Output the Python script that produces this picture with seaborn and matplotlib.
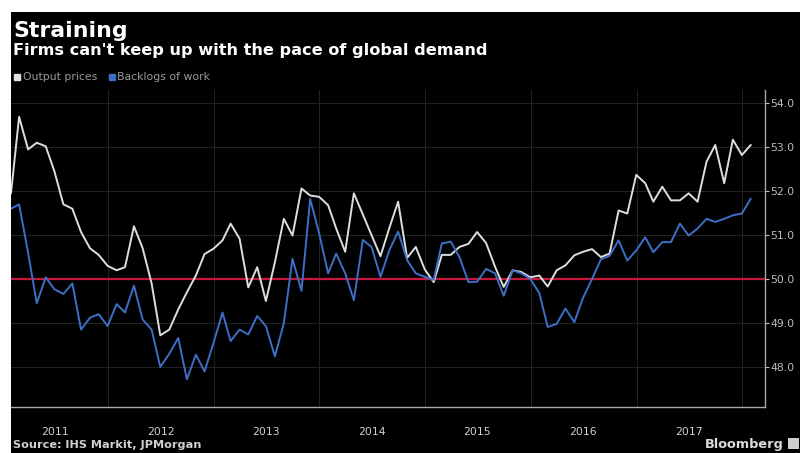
import numpy as np
import pandas as pd
import matplotlib
matplotlib.use("Agg")
import matplotlib.pyplot as plt
import matplotlib.dates as mdates
from matplotlib.lines import Line2D
from matplotlib.patches import Rectangle
import seaborn as sns

sns.set_style("dark")
plt.rcParams['font.family'] = ['DejaVu Sans']

# monthly PMI sub-indices, Jan 2011 - Jan 2018 (plotted at month end)
months = pd.date_range("2011-01-31", periods=85, freq="ME")
output_prices = [
    51.95, 53.69, 52.95, 53.10, 53.02, 52.45, 51.70, 51.60, 51.07, 50.70,
    50.55, 50.30, 50.20, 50.27, 51.20, 50.70, 49.90, 48.72, 48.85, 49.31,
    49.70, 50.08, 50.57, 50.69, 50.88, 51.26, 50.92, 49.81, 50.27, 49.50,
    50.38, 51.37, 50.99, 52.06, 51.90, 51.87, 51.68, 51.15, 50.62, 51.95,
    51.47, 51.00, 50.52, 51.17, 51.76, 50.48, 50.73, 50.22, 49.93, 50.55,
    50.55, 50.73, 50.80, 51.07, 50.82, 50.28, 49.82, 50.20, 50.16, 50.04,
    50.08, 49.83, 50.20, 50.31, 50.54, 50.62, 50.68, 50.50, 50.58, 51.56,
    51.49, 52.37, 52.18, 51.76, 52.10, 51.79, 51.79, 51.95, 51.76, 52.67,
    53.05, 52.18, 53.17, 52.82, 53.05,
]
backlogs = [
    51.60, 51.70, 50.60, 49.45, 50.04, 49.77, 49.66, 49.90, 48.85, 49.12,
    49.20, 48.93, 49.43, 49.24, 49.85, 49.08, 48.85, 48.00, 48.30, 48.66,
    47.72, 48.28, 47.90, 48.55, 49.24, 48.59, 48.85, 48.74, 49.16, 48.93,
    48.24, 49.00, 50.46, 49.73, 51.82, 51.04, 50.13, 50.58, 50.13, 49.52,
    50.89, 50.73, 50.05, 50.66, 51.08, 50.43, 50.13, 50.05, 49.98, 50.81,
    50.85, 50.50, 49.93, 49.94, 50.23, 50.13, 49.62, 50.20, 50.13, 50.00,
    49.68, 48.91, 48.98, 49.33, 49.02, 49.57, 50.00, 50.45, 50.53, 50.88,
    50.42, 50.65, 50.95, 50.61, 50.84, 50.84, 51.26, 50.99, 51.15, 51.37,
    51.30, 51.37, 51.45, 51.49, 51.83,
]
series_names = ["Output prices", "Backlogs of work"]
colors = {"Output prices": "#dedede", "Backlogs of work": "#3d6fc6"}
y_ticks = [48, 49, 50, 51, 52, 53, 54]

df = pd.DataFrame({"date": months, series_names[0]: output_prices,
                   series_names[1]: backlogs})
long = df.melt(id_vars="date", var_name="series", value_name="value")

fig = plt.figure(figsize=(8, 4.53), dpi=100)
fig.patch.set_facecolor("black")
# white margins at top and left, as in the screenshot
fig.add_artist(Rectangle((0, 1 - 12 / 453), 1, 12 / 453, transform=fig.transFigure,
                         facecolor="white", edgecolor="none", zorder=0))
fig.add_artist(Rectangle((0, 0), 11 / 800, 1, transform=fig.transFigure,
                         facecolor="white", edgecolor="none", zorder=0))

ax = fig.add_axes([11 / 800, 1 - 407 / 453, 754 / 800, 317 / 453])
ax.set_facecolor("black")

ax.axhline(50, color="#c8163e", lw=1.6, zorder=3)
sns.lineplot(data=long, x="date", y="value", hue="series", palette=colors,
             hue_order=series_names, lw=1.4, ax=ax, legend=False, zorder=4)

ax.set_xlim(pd.Timestamp("2011-01-31"), pd.Timestamp("2018-03-21"))
ax.set_ylim(47.09, 54.3)
ax.set_xlabel("")
ax.set_ylabel("")

# y axis on the right
ax.yaxis.tick_right()
ax.set_yticks(y_ticks)
ax.set_yticklabels([f"{v:.1f}" for v in y_ticks])
ax.tick_params(axis="y", colors="#bdbdbd", labelsize=7.8, length=3, width=0.8,
               pad=1, direction="out")
ax.grid(axis="y", color="#222222", lw=0.8)

# year boundaries as long ticks, year labels mid-year
ax.xaxis.set_major_locator(mdates.YearLocator())
ax.xaxis.set_major_formatter(plt.NullFormatter())
ax.xaxis.set_minor_locator(mdates.MonthLocator([4, 7, 10]))
ax.xaxis.set_minor_formatter(plt.FuncFormatter(
    lambda v, p: str(mdates.num2date(v).year) if mdates.num2date(v).month == 7 else ""))
ax.tick_params(axis="x", which="major", length=24, width=0.8, color="#333333",
               direction="out")
ax.tick_params(axis="x", which="minor", length=2.5, width=0.8, color="#8a8a8a",
               labelsize=7.8, labelcolor="#cfcfcf", pad=13, direction="inout")
ax.grid(axis="x", which="major", color="#222222", lw=0.8)

for s in ["left", "top"]:
    ax.spines[s].set_visible(False)
for s in ["right", "bottom"]:
    ax.spines[s].set_color("#a8a8a8")
    ax.spines[s].set_linewidth(1.0)

# titles
fig.text(13 / 800, 1 - 37 / 453, "Straining", color="white", fontsize=15.8,
         fontweight="bold", va="baseline", ha="left")
fig.text(13 / 800, 1 - 55 / 453, "Firms can't keep up with the pace of global demand",
         color="white", fontsize=11.6, fontweight="bold", va="baseline", ha="left")

handles = [Line2D([], [], marker="s", ls="none", markersize=5,
                  color=colors[n]) for n in series_names]
fig.legend(handles, series_names, loc="upper left", bbox_to_anchor=(0.008, 1 - 67 / 453),
           ncol=2, frameon=False, fontsize=7.8, labelcolor="#9a9a9a",
           handletextpad=0.0, columnspacing=0.9, handlelength=1.0, borderpad=0)

fig.text(13 / 800, 1 - 448.5 / 453, "Source: IHS Markit, JPMorgan", color="#d0d0d0",
         fontsize=8.1, fontweight="bold", va="baseline", ha="left")
fig.text(784 / 800, 1 - 448 / 453, "Bloomberg", color="#dcdcdc", fontsize=9.3,
         fontweight="bold", va="baseline", ha="right")
fig.add_artist(Rectangle((788 / 800, 1 - 449 / 453), 11 / 800, 11 / 453,
                         transform=fig.transFigure, facecolor="#cfcfcf",
                         edgecolor="none"))

fig.savefig("out.png", dpi=100, facecolor=fig.get_facecolor())
